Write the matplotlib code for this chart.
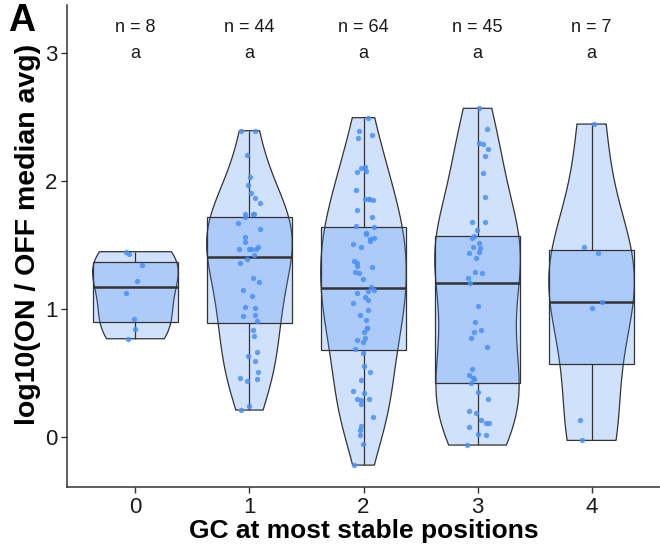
import matplotlib
matplotlib.use("Agg")
import matplotlib.pyplot as plt
import numpy as np
from matplotlib import font_manager
from matplotlib.patches import Rectangle

# log10(ON / OFF median avg) per sequence, grouped by GC count
gc0 = [1.448, 1.43, 1.344, 1.219, 1.128, 0.919, 0.841, 0.768]
gc1 = [2.393, 2.393, 2.203, 2.031, 1.966, 1.909, 1.87, 1.831, 1.742, 1.740,
       1.74, 1.716, 1.669, 1.625, 1.565, 1.521, 1.487, 1.47, 1.469, 1.469,
       1.469, 1.422, 1.391, 1.362, 1.245, 1.208, 1.148, 1.102, 1.013, 1.010,
       0.953, 0.948, 0.906, 0.833, 0.789, 0.661, 0.63, 0.594, 0.505, 0.458,
       0.451, 0.4375, 0.245, 0.211]
gc2 = [2.495, 2.391, 2.357, 2.333, 2.107, 2.10, 2.076, 2.068, 1.93, 1.862,
       1.86, 1.857, 1.854, 1.771, 1.719, 1.648, 1.638, 1.596, 1.583, 1.552,
       1.547, 1.534, 1.508, 1.482, 1.378, 1.362, 1.338, 1.325, 1.287, 1.279,
       1.234, 1.174, 1.148, 1.141, 1.127, 1.096, 1.07, 1.05, 0.992, 0.95,
       0.914, 0.852, 0.85, 0.823, 0.776, 0.760, 0.742, 0.6875, 0.654, 0.557,
       0.51, 0.448, 0.359, 0.346, 0.30, 0.299, 0.286, 0.255, 0.154, 0.086,
       0.052, 0.016, -0.055, -0.219]
gc3 = [2.568, 2.404, 2.30, 2.289, 2.25, 2.198, 2.063, 1.878, 1.677, 1.677,
       1.617, 1.573, 1.557, 1.513, 1.487, 1.474, 1.448, 1.435, 1.401, 1.291,
       1.278, 1.245, 1.20, 1.023, 0.896, 0.836, 0.823, 0.776, 0.706, 0.529,
       0.484, 0.458, 0.451, 0.425, 0.349, 0.297, 0.206, 0.185, 0.133, 0.112,
       0.107, 0.081, 0.021, 0.016, -0.0625]
gc4 = [2.445, 1.487, 1.437, 1.052, 1.005, 0.133, -0.026]

GROUP_LABELS = ["0", "1", "2", "3", "4"]
GROUP_VALUES = [gc0, gc1, gc2, gc3, gc4]
LETTERS = ["a", "a", "a", "a", "a"]

FILL = "#478df3"
POINT = "#4a90f5"
EDGE = "#333333"
WIDTH = 0.75
BW_ADJUST = 1.2


def _family(names):
    installed = {f.name for f in font_manager.fontManager.ttflist}
    return [n for n in names if n in installed] + ["DejaVu Sans"]


plt.rcParams["font.family"] = _family(["Liberation Sans", "Arimo"])


def _nrd0(y):
    y = np.asarray(y)
    sd = y.std(ddof=1)
    iqr = np.subtract(*np.percentile(y, [75, 25])) / 1.34
    lo = min(sd, iqr) if iqr > 0 else sd
    return 0.9 * lo * len(y) ** -0.2


def _violin(y):
    y = np.asarray(y)
    grid = np.linspace(y.min(), y.max(), 512)
    bw = _nrd0(y) * BW_ADJUST
    dens = np.exp(-0.5 * ((grid[:, None] - y[None, :]) / bw) ** 2).sum(axis=1)
    return grid, dens / dens.max()


fig = plt.figure(figsize=(6.6, 5.52), dpi=100)
ax = fig.add_axes([67 / 660, 1 - 487 / 552, 593 / 660, 482 / 552])
rng = np.random.default_rng(3)

for pos, vals in enumerate(GROUP_VALUES):
    vals = np.asarray(vals)
    grid, dens = _violin(vals)
    half = dens * WIDTH / 2
    ax.fill_betweenx(grid, pos - half, pos + half, facecolor=FILL, alpha=0.255,
                     edgecolor="none", zorder=1)
    ax.fill_betweenx(grid, pos - half, pos + half, facecolor="none",
                     edgecolor=EDGE, lw=0.9, zorder=2)

    q1, med, q3 = np.percentile(vals, [25, 50, 75])
    ax.add_patch(Rectangle((pos - WIDTH / 2, q1), WIDTH, q3 - q1, facecolor=FILL,
                           alpha=0.255, edgecolor="none", zorder=3))
    ax.add_patch(Rectangle((pos - WIDTH / 2, q1), WIDTH, q3 - q1, facecolor="none",
                           edgecolor=EDGE, lw=0.9, zorder=4))
    ax.vlines(pos, q3, vals.max(), color=EDGE, lw=0.9, zorder=4)
    ax.vlines(pos, vals.min(), q1, color=EDGE, lw=0.9, zorder=4)
    ax.hlines(med, pos - WIDTH / 2, pos + WIDTH / 2, color=EDGE, lw=1.8, zorder=4)

    jitter = rng.uniform(-0.1, 0.1, len(vals))
    ax.scatter(pos + jitter, vals, s=15, color=POINT, alpha=0.85, lw=0, zorder=5)

    ax.text(pos, 3.2, f"n = {len(vals)}", ha="center", va="center", fontsize=13,
            color="#1a1a1a")
    ax.text(pos, 3.0, LETTERS[pos], ha="center", va="center", fontsize=13,
            color="#1a1a1a")

ax.set_xlim(-0.6, 4.6)
ax.set_ylim(-0.39, 3.375)
ax.set_xticks(range(len(GROUP_LABELS)))
ax.set_xticklabels(GROUP_LABELS)
ax.set_yticks([0, 1, 2, 3])
ax.tick_params(length=4, width=1, color=EDGE, pad=3, labelsize=16,
               labelcolor="#1a1a1a")
for side in ("top", "right"):
    ax.spines[side].set_visible(False)
for side in ("left", "bottom"):
    ax.spines[side].set_color(EDGE)
    ax.spines[side].set_linewidth(1.1)

ax.set_xlabel("GC at most stable positions", fontsize=19, fontweight="bold",
              labelpad=1)
ax.set_ylabel("log10(ON / OFF median avg)", fontsize=20.5, fontweight="bold")
ax.yaxis.set_label_coords(-0.044, 0.523)
fig.text(0.012, 0.995, "A", fontsize=27, fontweight="bold", va="top", ha="left")

fig.savefig("out.png", dpi=100)
